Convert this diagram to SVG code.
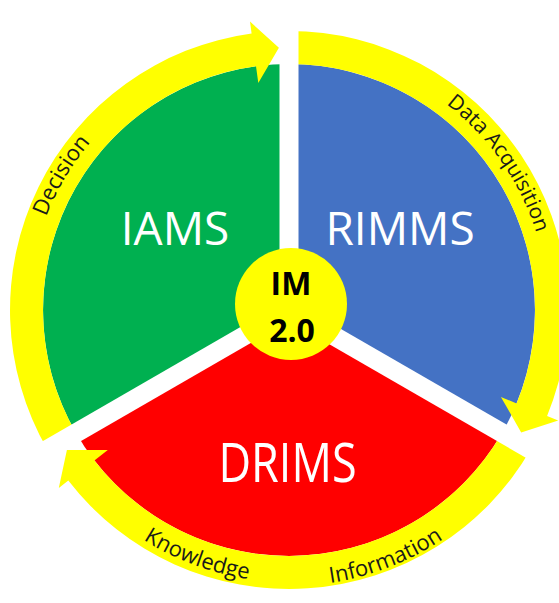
<svg xmlns="http://www.w3.org/2000/svg" width="559" height="603" viewBox="0 0 559 603">
<style>
.sector-label{font-family:"Open Sans","Liberation Sans",sans-serif;font-size:46px;fill:#ffffff;text-anchor:middle}
.arc-label{font-family:"Open Sans","Liberation Sans",sans-serif;font-size:22px;fill:#1a1a1a;text-anchor:middle}
.center-label{font-family:"Open Sans","Liberation Sans",sans-serif;font-size:32px;font-weight:bold;fill:#000000;text-anchor:middle}
.band{fill:#ffff00}
.gap{stroke:#ffffff;stroke-width:19;fill:none}
</style>
<defs>
<path id="p-decision" d="M29,307.3 A260 260 0 0 1 161.4,83.5"/>
<path id="p-data" d="M356.5,59.9 A259 259 0 0 1 547,332.6"/>
<path id="p-knowledge" d="M79.1,483 A272 272 0 0 0 333.9,578.3"/>
<path id="p-information" d="M247.2,582.8 A276 276 0 0 0 504.4,482.6"/>
</defs>
<rect width="559" height="603" fill="#ffffff"/>
<g id="node-rimms">
<path d="M289,310 L289,64 A246 246 0 0 1 502,433 Z" fill="#4472c4"/>
<text class="sector-label" x="400" y="245">RIMMS</text>
</g>
<g id="node-drims">
<path d="M289,310 L502,433 A246 246 0 0 1 76,433 Z" fill="#ff0000"/>
</g>
<g id="node-iams">
<path d="M289,310 L76,433 A246 246 0 0 1 289,64 Z" fill="#00b050"/>
<text class="sector-label" x="175" y="245">IAMS</text>
</g>
<g id="connectors">
<path class="band" d="M289,31 A279 279 0 0 1 547.1,415.9 L558.2,420.4 L521.2,432.4 L500.9,396.9 L516.6,403.4 A246 246 0 0 0 289,64 Z"/>
<path class="band" d="M530.6,449.5 A279 279 0 0 1 68.3,480.6 L58.8,488 L66.9,449.9 L107.8,450 L94.4,460.4 A246 246 0 0 0 502,433 Z"/>
<path class="band" d="M47.4,449.5 A279 279 0 0 1 251.6,33.5 L250,21.6 L278.9,47.7 L258.3,83.1 L256,66.2 A246 246 0 0 0 76,433 Z"/>
<line class="gap" x1="289" y1="310" x2="289" y2="0"/>
<line class="gap" x1="289" y1="310" x2="557.5" y2="465"/>
<line class="gap" x1="289" y1="310" x2="20.5" y2="465"/>
<text class="arc-label"><textPath href="#p-decision" startOffset="50%">Decision</textPath></text>
<text class="arc-label" style="font-size:21px"><textPath href="#p-data" startOffset="50%">Data Acquisition</textPath></text>
<text class="arc-label"><textPath href="#p-knowledge" startOffset="50%">Knowledge</textPath></text>
<text class="arc-label"><textPath href="#p-information" startOffset="50%">Information</textPath></text>
</g>
<g id="node-drims-label">
<text class="sector-label" transform="translate(287.5,482) scale(1,1.2)" x="0" y="0" style="font-size:45px">DRIMS</text>
</g>
<g id="node-center">
<circle cx="291" cy="304" r="56" fill="#ffff00"/>
<text class="center-label" x="291" y="295">IM</text>
<text class="center-label" x="292" y="342">2.0</text>
</g>
</svg>
